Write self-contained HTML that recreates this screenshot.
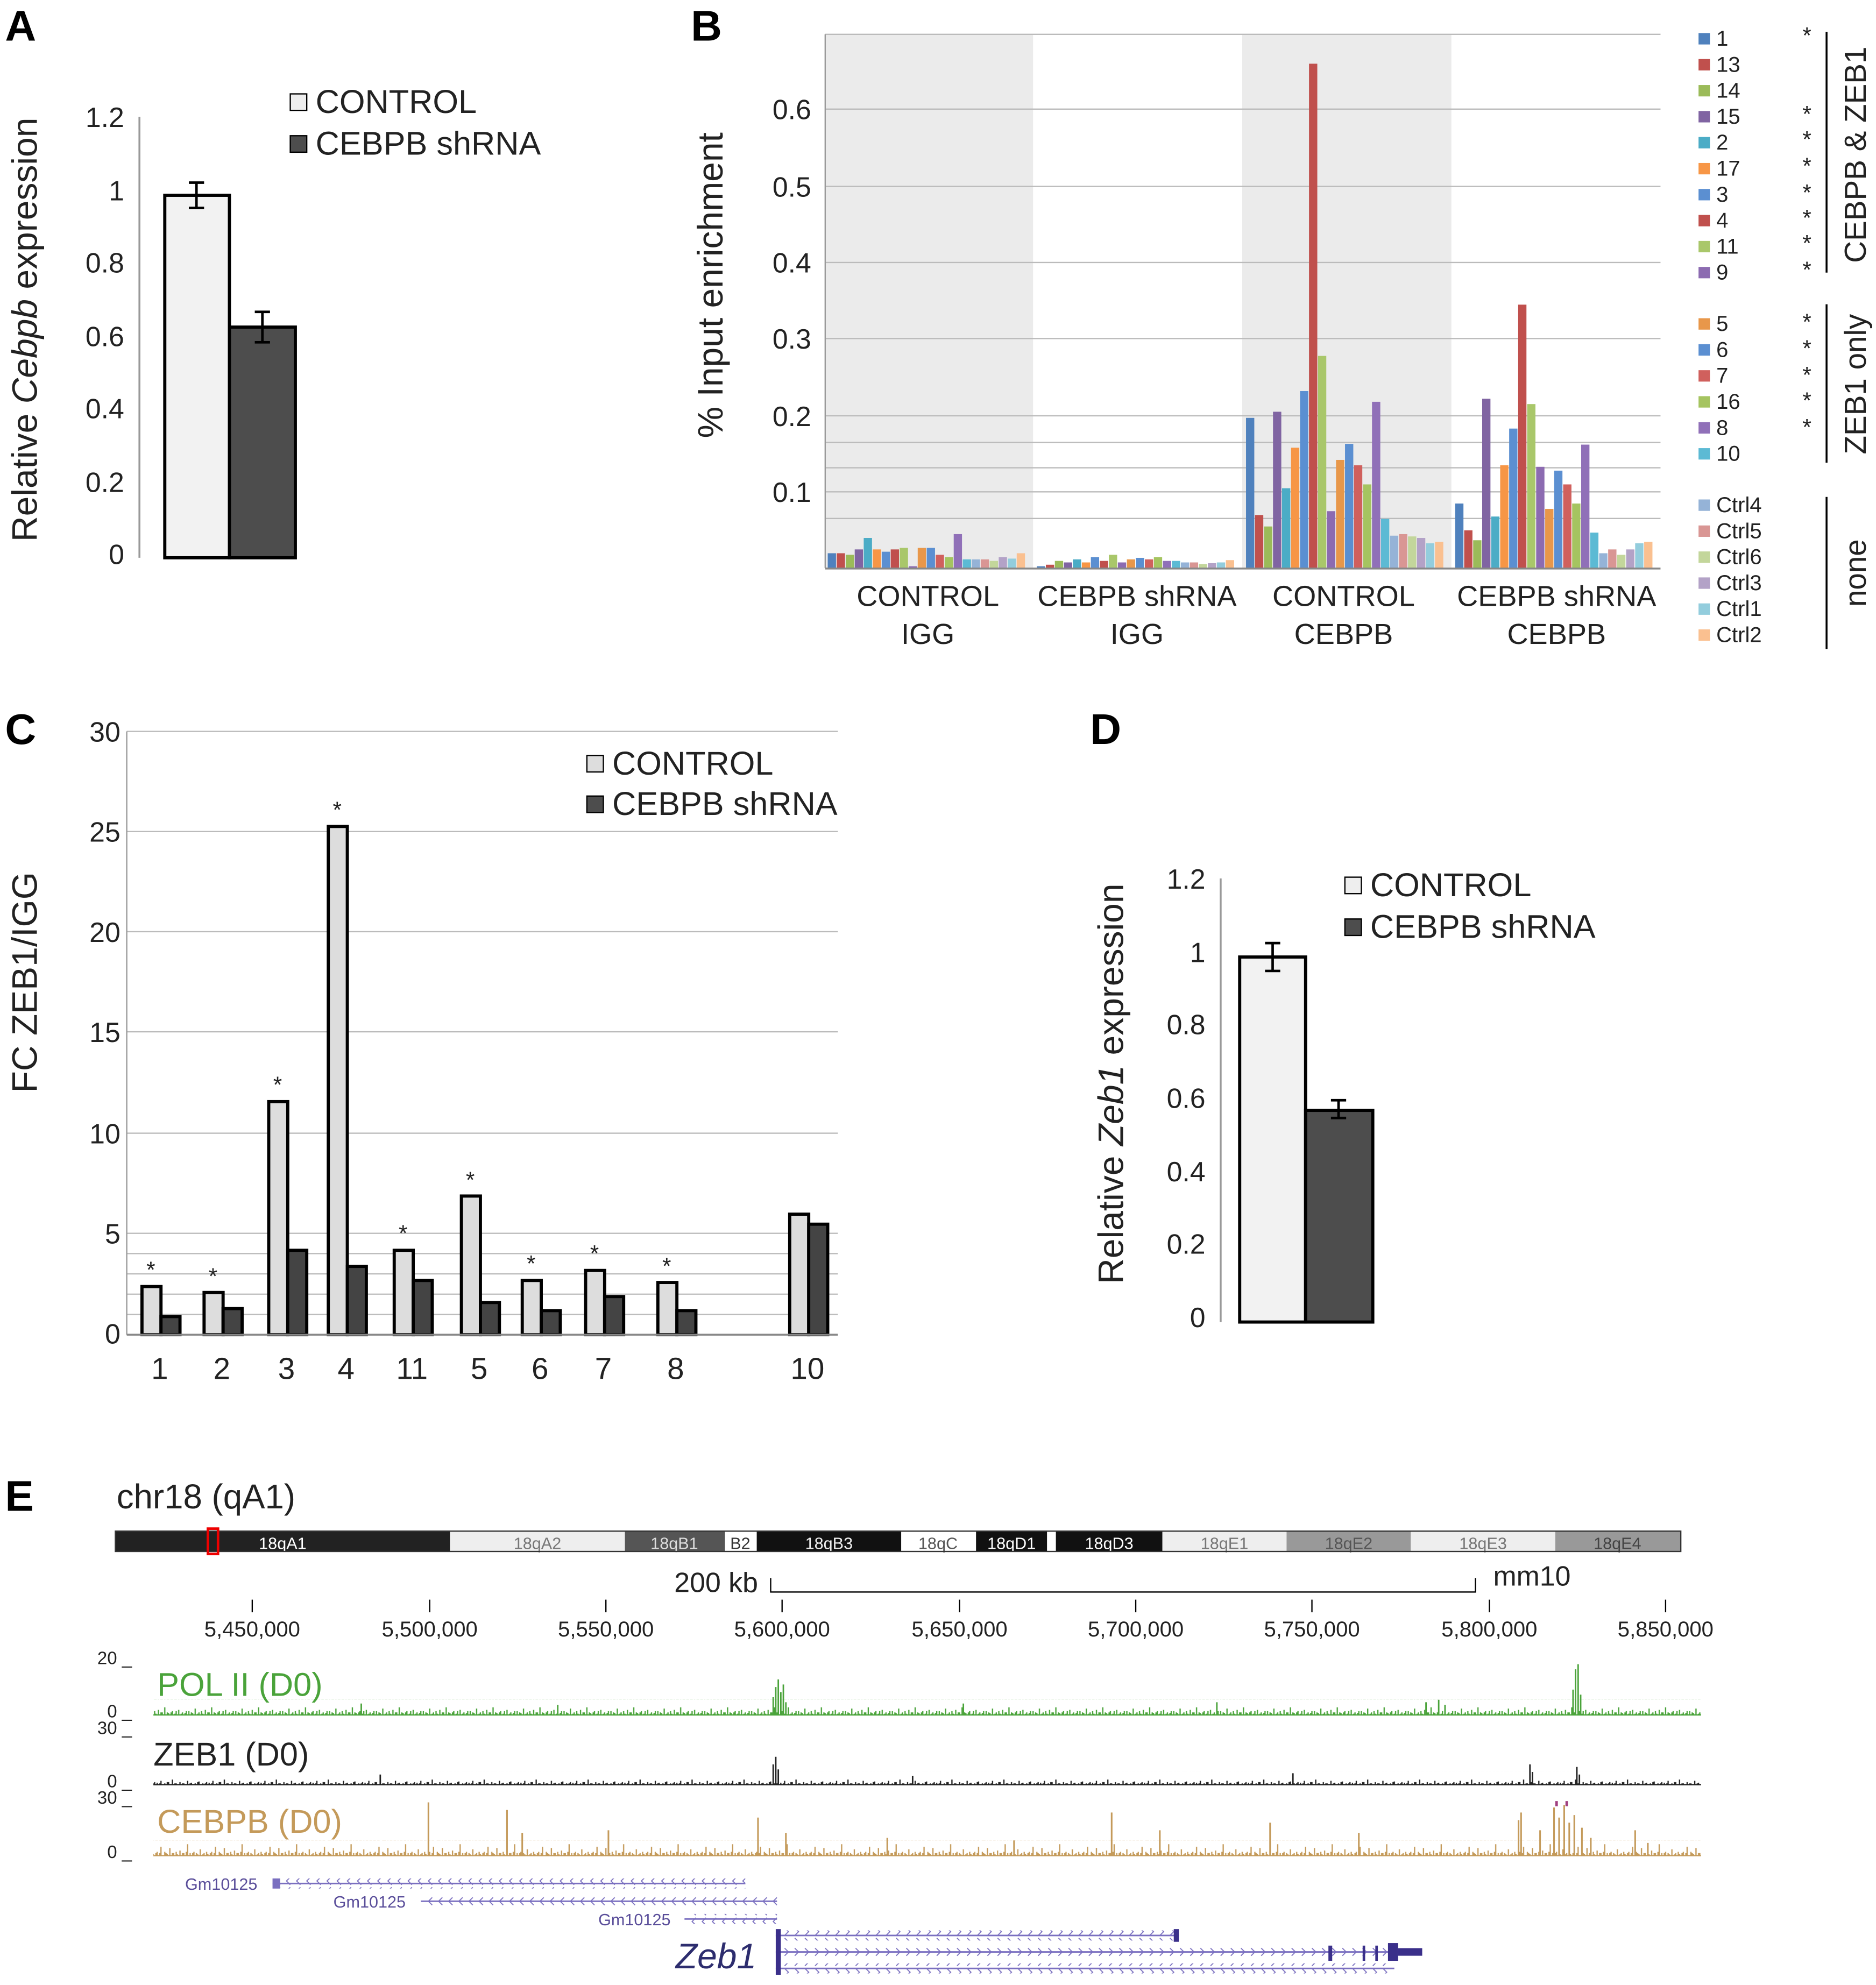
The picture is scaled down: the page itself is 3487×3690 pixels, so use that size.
<!DOCTYPE html>
<html><head><meta charset="utf-8"><style>
html,body{margin:0;padding:0;background:#fff}
svg{display:block}
text{font-family:"Liberation Sans",Arial,sans-serif}
</style></head><body>
<svg width="3487" height="3690" viewBox="0 0 1480 1566" xmlns="http://www.w3.org/2000/svg">
<defs>
<pattern id="pg" patternUnits="userSpaceOnUse" x="0" y="1341" width="37" height="12"><path d="M1 12v-3M3 12v-2M4 12v-1.5M6 12v-5M8 12v-1M9 12v-2M11 12v-3M12 12v-1M14 12v-4M16 12v-2M17 12v-2M19 12v-6M21 12v-2M22 12v-1.5M24 12v-2M25 12v-3M27 12v-1M28 12v-3M30 12v-4M32 12v-1M33 12v-2M35 12v-1.5M36 12v-3" stroke="#4aa33a" stroke-width="1"/></pattern>
<pattern id="pk" patternUnits="userSpaceOnUse" x="0" y="1398" width="41" height="10"><path d="M1 10v-1.5M3 10v-1M4 10v-3M7 10v-1M9 10v-2M10 10v-2M13 10v-4M15 10v-1M16 10v-1M19 10v-2M21 10v-1M22 10v-1M25 10v-3M27 10v-1M28 10v-1.5M31 10v-1M33 10v-2M34 10v-2.5M37 10v-1M39 10v-1M40 10v-2" stroke="#222" stroke-width="1"/></pattern>
<pattern id="pc" patternUnits="userSpaceOnUse" x="0" y="1452" width="43" height="12"><path d="M1 12v-3M2 12v-2M3 12v-1.5M5 12v-6M7 12v-2M8 12v-2M10 12v-3M11 12v-1M13 12v-4M15 12v-2M16 12v-2M18 12v-3M19 12v-9M21 12v-2M23 12v-2M24 12v-3M26 12v-2M27 12v-1M29 12v-5M31 12v-1M32 12v-2M34 12v-3M35 12v-1.5M37 12v-2M38 12v-3M40 12v-2M41 12v-7" stroke="#c49a5a" stroke-width="1"/></pattern>
<pattern id="chl" patternUnits="userSpaceOnUse" x="0" y="0" width="8" height="8"><path d="M5 1l-3 3l3 3" fill="none" stroke="#7a6fc0" stroke-width="0.8"/></pattern>
<pattern id="chr" patternUnits="userSpaceOnUse" x="0" y="0" width="8" height="8"><path d="M3 1l3 3l-3 3" fill="none" stroke="#7a6fc0" stroke-width="0.8"/></pattern>
</defs>
<rect width="1480" height="1566" fill="#fff"/>
<g font-weight="bold" font-size="34" fill="#000">
<text x="4" y="32">A</text><text x="545" y="32">B</text><text x="4" y="587">C</text><text x="860" y="587">D</text><text x="4" y="1192">E</text>
</g>
<!-- Panel A -->
<g font-size="22" fill="#222">
<line x1="110" y1="92" x2="110" y2="440" stroke="#999" stroke-width="1.5"/>
<g text-anchor="end">
<text x="98" y="100">1.2</text><text x="98" y="158">1</text><text x="98" y="215">0.8</text><text x="98" y="273">0.6</text><text x="98" y="330">0.4</text><text x="98" y="388">0.2</text><text x="98" y="445">0</text></g>
<rect x="130" y="154" width="51" height="286" fill="#f2f2f2" stroke="#000" stroke-width="2.5"/>
<rect x="181" y="258" width="52" height="182" fill="#4d4d4d" stroke="#000" stroke-width="2.5"/>
<path d="M155 144v20M149 144h12M149 164h12M207 246v24M201 246h12M201 270h12" stroke="#000" stroke-width="2"/>
<text transform="translate(29,260) rotate(-90)" text-anchor="middle" font-size="28">Relative <tspan font-style="italic">Cebpb</tspan> expression</text>
<rect x="229" y="74" width="13" height="13" fill="#eee" stroke="#000"/><text x="249" y="89" font-size="26">CONTROL</text>
<rect x="229" y="107" width="13" height="13" fill="#4d4d4d" stroke="#000"/><text x="249" y="122" font-size="26">CEBPB shRNA</text>
</g>
<!-- Panel B -->
<g font-size="22" fill="#222">
<rect x="651" y="27" width="164" height="421" fill="#ebebeb"/>
<rect x="980" y="27" width="165" height="421" fill="#ebebeb"/>
<g stroke="#bbb" stroke-width="1">
<line x1="651" y1="27" x2="1310" y2="27"/>
<line x1="651" y1="86" x2="1310" y2="86"/><line x1="651" y1="147" x2="1310" y2="147"/><line x1="651" y1="207" x2="1310" y2="207"/><line x1="651" y1="267" x2="1310" y2="267"/><line x1="651" y1="328" x2="1310" y2="328"/><line x1="651" y1="349" x2="1310" y2="349"/><line x1="651" y1="369" x2="1310" y2="369"/><line x1="651" y1="388" x2="1310" y2="388"/><line x1="651" y1="409" x2="1310" y2="409"/>
</g>
<line x1="651" y1="27" x2="651" y2="448" stroke="#999"/>
<g text-anchor="end"><text x="640" y="94">0.6</text><text x="640" y="155">0.5</text><text x="640" y="215">0.4</text><text x="640" y="275">0.3</text><text x="640" y="336">0.2</text><text x="640" y="396">0.1</text></g>
<text transform="translate(570,225) rotate(-90)" text-anchor="middle" font-size="28">% Input enrichment</text>
<g transform="translate(653,448.5) scale(7.1,-603.5)">
<rect x="0" width=".92" height=".02" fill="#4f81bd"/><rect x="1" width=".92" height=".02" fill="#c0504d"/><rect x="2" width=".92" height=".018" fill="#9bbb59"/><rect x="3" width=".92" height=".025" fill="#8064a2"/><rect x="4" width=".92" height=".04" fill="#4bacc6"/><rect x="5" width=".92" height=".025" fill="#f79646"/><rect x="6" width=".92" height=".022" fill="#5b8fd1"/><rect x="7" width=".92" height=".025" fill="#c0504d"/><rect x="8" width=".92" height=".027" fill="#a9c76a"/><rect x="9" width=".92" height=".003" fill="#8c6bb1"/><rect x="10" width=".92" height=".027" fill="#e8974a"/><rect x="11" width=".92" height=".027" fill="#5b8fd1"/><rect x="12" width=".92" height=".018" fill="#d0605d"/><rect x="13" width=".92" height=".015" fill="#a5c460"/><rect x="14" width=".92" height=".045" fill="#9070b8"/><rect x="15" width=".92" height=".012" fill="#5cbad4"/><rect x="16" width=".92" height=".012" fill="#95b3d7"/><rect x="17" width=".92" height=".012" fill="#d99694"/><rect x="18" width=".92" height=".01" fill="#c3d69b"/><rect x="19" width=".92" height=".015" fill="#b3a2c7"/><rect x="20" width=".92" height=".013" fill="#93cddd"/><rect x="21" width=".92" height=".02" fill="#fac090"/>
</g>
<g transform="translate(818,448.5) scale(7.1,-603.5)">
<rect x="0" width=".92" height=".003" fill="#4f81bd"/><rect x="1" width=".92" height=".005" fill="#c0504d"/><rect x="2" width=".92" height=".01" fill="#9bbb59"/><rect x="3" width=".92" height=".008" fill="#8064a2"/><rect x="4" width=".92" height=".012" fill="#4bacc6"/><rect x="5" width=".92" height=".008" fill="#f79646"/><rect x="6" width=".92" height=".015" fill="#5b8fd1"/><rect x="7" width=".92" height=".01" fill="#c0504d"/><rect x="8" width=".92" height=".018" fill="#a9c76a"/><rect x="9" width=".92" height=".008" fill="#8c6bb1"/><rect x="10" width=".92" height=".012" fill="#e8974a"/><rect x="11" width=".92" height=".014" fill="#5b8fd1"/><rect x="12" width=".92" height=".012" fill="#d0605d"/><rect x="13" width=".92" height=".015" fill="#a5c460"/><rect x="14" width=".92" height=".01" fill="#9070b8"/><rect x="15" width=".92" height=".01" fill="#5cbad4"/><rect x="16" width=".92" height=".008" fill="#95b3d7"/><rect x="17" width=".92" height=".008" fill="#d99694"/><rect x="18" width=".92" height=".006" fill="#c3d69b"/><rect x="19" width=".92" height=".007" fill="#b3a2c7"/><rect x="20" width=".92" height=".008" fill="#93cddd"/><rect x="21" width=".92" height=".011" fill="#fac090"/>
</g>
<g transform="translate(983,448.5) scale(7.1,-603.5)">
<rect x="0" width=".92" height=".197" fill="#4f81bd"/><rect x="1" width=".92" height=".07" fill="#c0504d"/><rect x="2" width=".92" height=".055" fill="#9bbb59"/><rect x="3" width=".92" height=".205" fill="#8064a2"/><rect x="4" width=".92" height=".105" fill="#4bacc6"/><rect x="5" width=".92" height=".158" fill="#f79646"/><rect x="6" width=".92" height=".232" fill="#5b8fd1"/><rect x="7" width=".92" height=".66" fill="#c0504d"/><rect x="8" width=".92" height=".278" fill="#a9c76a"/><rect x="9" width=".92" height=".075" fill="#8c6bb1"/><rect x="10" width=".92" height=".142" fill="#e8974a"/><rect x="11" width=".92" height=".163" fill="#5b8fd1"/><rect x="12" width=".92" height=".135" fill="#d0605d"/><rect x="13" width=".92" height=".11" fill="#a5c460"/><rect x="14" width=".92" height=".218" fill="#9070b8"/><rect x="15" width=".92" height=".065" fill="#5cbad4"/><rect x="16" width=".92" height=".043" fill="#95b3d7"/><rect x="17" width=".92" height=".045" fill="#d99694"/><rect x="18" width=".92" height=".042" fill="#c3d69b"/><rect x="19" width=".92" height=".04" fill="#b3a2c7"/><rect x="20" width=".92" height=".033" fill="#93cddd"/><rect x="21" width=".92" height=".035" fill="#fac090"/>
</g>
<g transform="translate(1148,448.5) scale(7.1,-603.5)">
<rect x="0" width=".92" height=".085" fill="#4f81bd"/><rect x="1" width=".92" height=".05" fill="#c0504d"/><rect x="2" width=".92" height=".037" fill="#9bbb59"/><rect x="3" width=".92" height=".222" fill="#8064a2"/><rect x="4" width=".92" height=".068" fill="#4bacc6"/><rect x="5" width=".92" height=".135" fill="#f79646"/><rect x="6" width=".92" height=".183" fill="#5b8fd1"/><rect x="7" width=".92" height=".345" fill="#c0504d"/><rect x="8" width=".92" height=".215" fill="#a9c76a"/><rect x="9" width=".92" height=".133" fill="#8c6bb1"/><rect x="10" width=".92" height=".078" fill="#e8974a"/><rect x="11" width=".92" height=".128" fill="#5b8fd1"/><rect x="12" width=".92" height=".11" fill="#d0605d"/><rect x="13" width=".92" height=".085" fill="#a5c460"/><rect x="14" width=".92" height=".162" fill="#9070b8"/><rect x="15" width=".92" height=".047" fill="#5cbad4"/><rect x="16" width=".92" height=".02" fill="#95b3d7"/><rect x="17" width=".92" height=".025" fill="#d99694"/><rect x="18" width=".92" height=".018" fill="#c3d69b"/><rect x="19" width=".92" height=".025" fill="#b3a2c7"/><rect x="20" width=".92" height=".033" fill="#93cddd"/><rect x="21" width=".92" height=".035" fill="#fac090"/>
</g>
<line x1="651" y1="448.5" x2="1310" y2="448.5" stroke="#888" stroke-width="1.5"/>
<g text-anchor="middle" font-size="23"><text x="732" y="478">CONTROL</text><text x="732" y="508">IGG</text><text x="897" y="478">CEBPB shRNA</text><text x="897" y="508">IGG</text><text x="1060" y="478">CONTROL</text><text x="1060" y="508">CEBPB</text><text x="1228" y="478">CEBPB shRNA</text><text x="1228" y="508">CEBPB</text></g>
<g font-size="17">
<rect x="1340" y="26" width="9" height="9" fill="#4f81bd"/><text x="1354" y="36">1</text>
<rect x="1340" y="46.5" width="9" height="9" fill="#c0504d"/><text x="1354" y="56.5">13</text>
<rect x="1340" y="67" width="9" height="9" fill="#9bbb59"/><text x="1354" y="77">14</text>
<rect x="1340" y="87.5" width="9" height="9" fill="#8064a2"/><text x="1354" y="97.5">15</text>
<rect x="1340" y="108" width="9" height="9" fill="#4bacc6"/><text x="1354" y="118">2</text>
<rect x="1340" y="128.5" width="9" height="9" fill="#f79646"/><text x="1354" y="138.5">17</text>
<rect x="1340" y="149" width="9" height="9" fill="#5b8fd1"/><text x="1354" y="159">3</text>
<rect x="1340" y="169.5" width="9" height="9" fill="#c0504d"/><text x="1354" y="179.5">4</text>
<rect x="1340" y="190" width="9" height="9" fill="#a9c76a"/><text x="1354" y="200">11</text>
<rect x="1340" y="210.5" width="9" height="9" fill="#8c6bb1"/><text x="1354" y="220.5">9</text>
<rect x="1340" y="251" width="9" height="9" fill="#e8974a"/><text x="1354" y="261">5</text>
<rect x="1340" y="271.5" width="9" height="9" fill="#5b8fd1"/><text x="1354" y="281.5">6</text>
<rect x="1340" y="292" width="9" height="9" fill="#d0605d"/><text x="1354" y="302">7</text>
<rect x="1340" y="312.5" width="9" height="9" fill="#a5c460"/><text x="1354" y="322.5">16</text>
<rect x="1340" y="333" width="9" height="9" fill="#9070b8"/><text x="1354" y="343">8</text>
<rect x="1340" y="353.5" width="9" height="9" fill="#5cbad4"/><text x="1354" y="363.5">10</text>
<rect x="1340" y="394" width="9" height="9" fill="#95b3d7"/><text x="1354" y="404">Ctrl4</text>
<rect x="1340" y="414.5" width="9" height="9" fill="#d99694"/><text x="1354" y="424.5">Ctrl5</text>
<rect x="1340" y="435" width="9" height="9" fill="#c3d69b"/><text x="1354" y="445">Ctrl6</text>
<rect x="1340" y="455.5" width="9" height="9" fill="#b3a2c7"/><text x="1354" y="465.5">Ctrl3</text>
<rect x="1340" y="476" width="9" height="9" fill="#93cddd"/><text x="1354" y="486">Ctrl1</text>
<rect x="1340" y="496.5" width="9" height="9" fill="#fac090"/><text x="1354" y="506.5">Ctrl2</text>
</g>
<g font-size="18"><text x="1422" y="34">*</text><text x="1422" y="96">*</text><text x="1422" y="116">*</text><text x="1422" y="137">*</text><text x="1422" y="158">*</text><text x="1422" y="178">*</text><text x="1422" y="198">*</text><text x="1422" y="219">*</text><text x="1422" y="260">*</text><text x="1422" y="281">*</text><text x="1422" y="302">*</text><text x="1422" y="322">*</text><text x="1422" y="343">*</text></g>
<g stroke="#000" stroke-width="1.5"><line x1="1441" y1="25" x2="1441" y2="215"/><line x1="1441" y1="240" x2="1441" y2="365"/><line x1="1441" y1="392" x2="1441" y2="512"/></g>
<g font-size="24" text-anchor="middle"><text transform="translate(1472,122) rotate(-90)">CEBPB &amp; ZEB1</text><text transform="translate(1472,303) rotate(-90)">ZEB1 only</text><text transform="translate(1472,452) rotate(-90)">none</text></g>
</g>
<!-- Panel C -->
<g font-size="22" fill="#222">
<g stroke="#bbb"><line x1="100" y1="577" x2="661" y2="577"/><line x1="100" y1="656" x2="661" y2="656"/><line x1="100" y1="735" x2="661" y2="735"/><line x1="100" y1="814" x2="661" y2="814"/><line x1="100" y1="894" x2="661" y2="894"/><line x1="100" y1="973" x2="661" y2="973"/><line x1="100" y1="989" x2="661" y2="989"/><line x1="100" y1="1005" x2="661" y2="1005"/><line x1="100" y1="1021" x2="661" y2="1021"/><line x1="100" y1="1037" x2="661" y2="1037"/></g>
<line x1="100" y1="577" x2="100" y2="1053" stroke="#999"/>
<g text-anchor="end"><text x="95" y="585">30</text><text x="95" y="664">25</text><text x="95" y="743">20</text><text x="95" y="822">15</text><text x="95" y="902">10</text><text x="95" y="981">5</text><text x="95" y="1060">0</text></g>
<text transform="translate(29,775) rotate(-90)" text-anchor="middle" font-size="28">FC ZEB1/IGG</text>
<g stroke="#000" stroke-width="2.5">
<g fill="#ddd">
<rect x="112" y="1015" width="15" height="38"/><rect x="161" y="1019.7" width="15" height="33.3"/><rect x="212" y="869.1" width="15" height="183.9"/><rect x="259" y="652" width="15" height="401"/><rect x="311" y="986.4" width="15" height="66.6"/><rect x="364" y="943.6" width="15" height="109.4"/><rect x="412" y="1010.2" width="15" height="42.8"/><rect x="462" y="1002.3" width="15" height="50.7"/><rect x="519" y="1011.8" width="15" height="41.2"/><rect x="623" y="957.9" width="15" height="95.1"/>
</g>
<g fill="#444">
<rect x="127" y="1038.7" width="15" height="14.3"/><rect x="176" y="1032.4" width="15" height="20.6"/><rect x="227" y="986.4" width="15" height="66.6"/><rect x="274" y="999.1" width="15" height="53.9"/><rect x="326" y="1010.2" width="15" height="42.8"/><rect x="379" y="1027.6" width="15" height="25.4"/><rect x="427" y="1034" width="15" height="19"/><rect x="477" y="1022.9" width="15" height="30.1"/><rect x="534" y="1034" width="15" height="19"/><rect x="638" y="965.8" width="15" height="87.2"/>
</g></g>
<line x1="100" y1="1053" x2="661" y2="1053" stroke="#888" stroke-width="1.5"/>
<g font-size="18" text-anchor="middle"><text x="119" y="1008">*</text><text x="168" y="1013">*</text><text x="219" y="862">*</text><text x="266" y="645">*</text><text x="318" y="979">*</text><text x="371" y="937">*</text><text x="419" y="1003">*</text><text x="469" y="995">*</text><text x="526" y="1005">*</text></g>
<g font-size="24" text-anchor="middle"><text x="126" y="1088">1</text><text x="175" y="1088">2</text><text x="226" y="1088">3</text><text x="273" y="1088">4</text><text x="325" y="1088">11</text><text x="378" y="1088">5</text><text x="426" y="1088">6</text><text x="476" y="1088">7</text><text x="533" y="1088">8</text><text x="637" y="1088">10</text></g>
<rect x="463" y="596" width="13" height="13" fill="#ddd" stroke="#000"/><text x="483" y="611" font-size="26">CONTROL</text>
<rect x="463" y="628" width="13" height="13" fill="#4d4d4d" stroke="#000"/><text x="483" y="643" font-size="26">CEBPB shRNA</text>
</g>
<!-- Panel D -->
<g font-size="22" fill="#222">
<line x1="963" y1="693" x2="963" y2="1043" stroke="#999" stroke-width="1.5"/>
<g text-anchor="end"><text x="951" y="701">1.2</text><text x="951" y="759">1</text><text x="951" y="816">0.8</text><text x="951" y="874">0.6</text><text x="951" y="932">0.4</text><text x="951" y="989">0.2</text><text x="951" y="1047">0</text></g>
<rect x="978" y="755" width="52" height="288" fill="#f2f2f2" stroke="#000" stroke-width="2.5"/>
<rect x="1030" y="876" width="53" height="167" fill="#4d4d4d" stroke="#000" stroke-width="2.5"/>
<path d="M1004 744v22M998 744h12M998 766h12M1056 868v14M1050 868h12M1050 882h12" stroke="#000" stroke-width="2"/>
<text transform="translate(886,855) rotate(-90)" text-anchor="middle" font-size="28">Relative <tspan font-style="italic">Zeb1</tspan> expression</text>
<rect x="1061" y="692" width="13" height="13" fill="#eee" stroke="#000"/><text x="1081" y="707" font-size="26">CONTROL</text>
<rect x="1061" y="725" width="13" height="13" fill="#4d4d4d" stroke="#000"/><text x="1081" y="740" font-size="26">CEBPB shRNA</text>
</g>
<!-- Panel E -->
<g fill="#222">
<text x="92" y="1190" font-size="27">chr18 (qA1)</text>
<g font-size="13" text-anchor="middle">
<rect x="91" y="1208" width="264" height="16" fill="#222"/><text x="223" y="1222" fill="#fff">18qA1</text>
<rect x="355" y="1208" width="138" height="16" fill="#eee"/><text x="424" y="1222" fill="#777">18qA2</text>
<rect x="493" y="1208" width="79" height="16" fill="#555"/><text x="532" y="1222" fill="#ddd">18qB1</text>
<rect x="572" y="1208" width="25" height="16" fill="#fff"/><text x="584" y="1222" fill="#333">B2</text>
<rect x="597" y="1208" width="114" height="16" fill="#111"/><text x="654" y="1222" fill="#eee">18qB3</text>
<rect x="711" y="1208" width="59" height="16" fill="#fff"/><text x="740" y="1222" fill="#555">18qC</text>
<rect x="770" y="1208" width="56" height="16" fill="#111"/><text x="798" y="1222" fill="#fff">18qD1</text>
<rect x="833" y="1208" width="84" height="16" fill="#111"/><text x="875" y="1222" fill="#fff">18qD3</text>
<rect x="917" y="1208" width="98" height="16" fill="#eee"/><text x="966" y="1222" fill="#777">18qE1</text>
<rect x="1015" y="1208" width="98" height="16" fill="#999"/><text x="1064" y="1222" fill="#555">18qE2</text>
<rect x="1113" y="1208" width="114" height="16" fill="#eee"/><text x="1170" y="1222" fill="#777">18qE3</text>
<rect x="1227" y="1208" width="99" height="16" fill="#999"/><text x="1276" y="1222" fill="#444">18qE4</text>
<rect x="91" y="1208" width="1235" height="16" fill="none" stroke="#333"/>
<rect x="164" y="1206" width="8" height="20" fill="none" stroke="#e00" stroke-width="2"/>
</g>
<text x="598" y="1256" font-size="22" text-anchor="end">200 kb</text>
<path d="M608 1245v11h556v-11" fill="none" stroke="#000"/>
<text x="1178" y="1251" font-size="22">mm10</text>
<path d="M199 1262v10M339 1262v10M478 1262v10M617 1262v10M757 1262v10M896 1262v10M1035 1262v10M1175 1262v10M1314 1262v10" stroke="#000"/>
<g font-size="17" text-anchor="middle"><text x="199" y="1291">5,450,000</text><text x="339" y="1291">5,500,000</text><text x="478" y="1291">5,550,000</text><text x="617" y="1291">5,600,000</text><text x="757" y="1291">5,650,000</text><text x="896" y="1291">5,700,000</text><text x="1035" y="1291">5,750,000</text><text x="1175" y="1291">5,800,000</text><text x="1314" y="1291">5,850,000</text></g>
<g font-size="14" text-anchor="end"><text x="104" y="1313">20 _</text><text x="104" y="1355">0 _</text><text x="104" y="1368">30 _</text><text x="104" y="1410">0 _</text><text x="104" y="1423">30 _</text><text x="104" y="1466">0 _</text></g>
<rect x="121" y="1341" width="1221" height="12" fill="url(#pg)"/>
<line x1="121" y1="1353" x2="1342" y2="1353" stroke="#4aa33a"/>
<path d="M610 1353v-14M612 1353v-22M614 1353v-28M616 1353v-18M618 1353v-24M620 1353v-10M622 1353v-6M1241 1353v-20M1243 1353v-36M1245 1353v-40M1247 1353v-16M1125 1353v-10M1135 1353v-12M1140 1353v-8M285 1353v-9M440 1353v-8M760 1353v-9M960 1353v-10" stroke="#4aa33a" stroke-width="1.2"/>
<rect x="121" y="1398" width="1221" height="10" fill="url(#pk)"/>
<line x1="121" y1="1408" x2="1342" y2="1408" stroke="#222"/>
<path d="M610 1408v-16M612 1408v-22M614 1408v-12M1207 1408v-16M1209 1408v-10M1244 1408v-14M1246 1408v-8M300 1408v-8M720 1408v-7M1020 1408v-9" stroke="#222" stroke-width="1.2"/>
<rect x="121" y="1452" width="1221" height="12" fill="url(#pc)"/>
<line x1="121" y1="1464" x2="1342" y2="1464" stroke="#c49a5a"/>
<path d="M338 1464v-42M400 1464v-36M412 1464v-18M480 1464v-20M598 1464v-30M620 1464v-18M700 1464v-14M800 1464v-12M877 1464v-34M915 1464v-20M1002 1464v-26M1072 1464v-18M1198 1464v-28M1200 1464v-34M1215 1464v-20M1226 1464v-38M1230 1464v-30M1234 1464v-40M1238 1464v-26M1242 1464v-32M1248 1464v-22M1255 1464v-14M1290 1464v-20M1300 1464v-10" stroke="#c49a5a" stroke-width="1.3"/>
<path d="M1228 1425v-4M1236 1425v-4" stroke="#a04080" stroke-width="2"/>
<text x="124" y="1338" font-size="26" fill="#4aa33a">POL II (D0)</text>
<text x="121" y="1393" font-size="26" fill="#222">ZEB1 (D0)</text>
<text x="124" y="1446" font-size="26" fill="#c49a5a">CEBPB (D0)</text>
<g font-size="13" fill="#5a4e9a"><text x="146" y="1491">Gm10125</text><text x="263" y="1505">Gm10125</text><text x="472" y="1519">Gm10125</text></g>
<text x="533" y="1553" font-size="28" font-style="italic" fill="#2d2d6e">Zeb1</text>
<g stroke="#7a6fc0" stroke-width="1.2">
<line x1="215" y1="1486" x2="588" y2="1486"/><line x1="332" y1="1500" x2="613" y2="1500"/><line x1="540" y1="1514" x2="613" y2="1514"/>
<line x1="612" y1="1527" x2="930" y2="1527"/><line x1="612" y1="1540" x2="1120" y2="1540"/><line x1="612" y1="1553" x2="1100" y2="1553"/>
</g>
<rect x="221" y="1482" width="367" height="8" fill="url(#chl)"/>
<rect x="336" y="1496" width="277" height="8" fill="url(#chl)"/>
<rect x="544" y="1510" width="69" height="8" fill="url(#chl)"/>
<rect x="616" y="1523" width="310" height="8" fill="url(#chr)"/>
<rect x="616" y="1536" width="480" height="8" fill="url(#chr)"/>
<rect x="616" y="1549" width="480" height="8" fill="url(#chr)"/>
<rect x="215" y="1482" width="6" height="8" fill="#7a6fc0"/>
<g fill="#3a2f8a"><rect x="612" y="1522" width="4" height="36"/><rect x="926" y="1522" width="4" height="10"/><rect x="1048" y="1535" width="3" height="12"/><rect x="1075" y="1535" width="2" height="12"/><rect x="1085" y="1535" width="2" height="12"/><rect x="1095" y="1533" width="8" height="14"/><rect x="1103" y="1537" width="19" height="6"/></g>
</g>
</svg>
</body></html>
